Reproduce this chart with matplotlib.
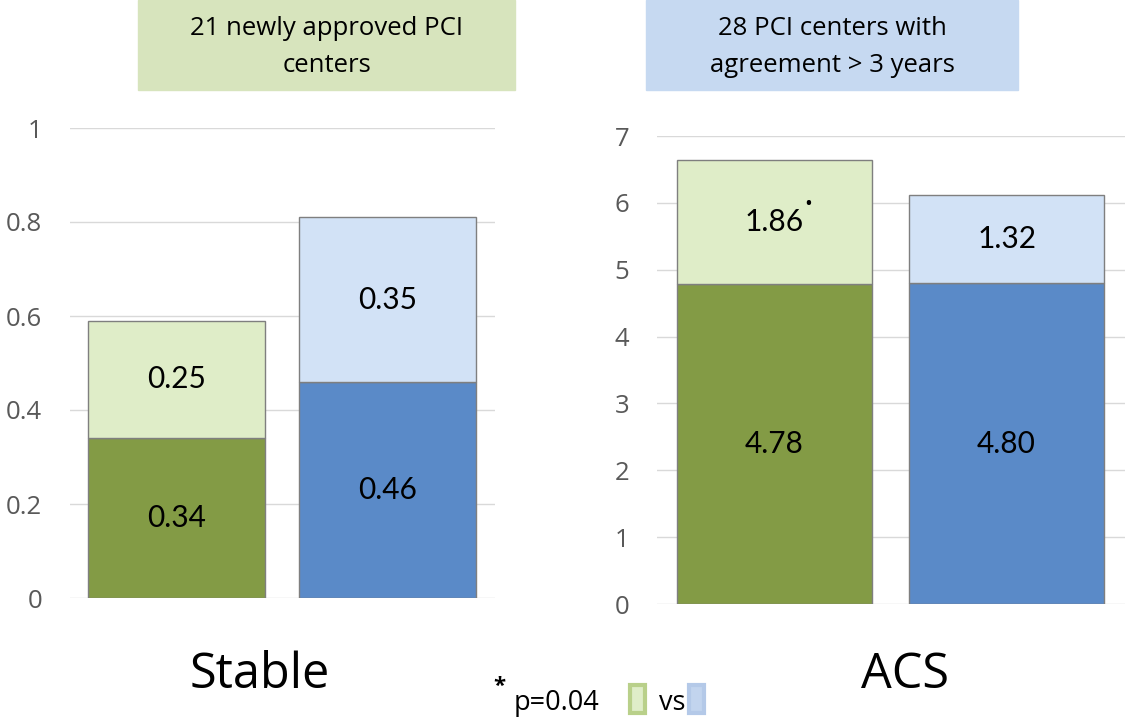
import matplotlib.pyplot as plt
from matplotlib.patches import Rectangle

# data
groups = ['21 newly approved PCI\ncenters', '28 PCI centers with\nagreement > 3 years']
stable_base = [0.34, 0.46]
stable_top = [0.25, 0.35]
acs_base = [4.78, 4.80]
acs_top = [1.86, 1.32]
panel_names = ['Stable', 'ACS']

dark = ['#839b45', '#5a8ac8']
light = ['#dfedc8', '#d2e2f6']
box_colors = ['#d7e4bd', '#c6d9f1']

plt.rcParams['font.family'] = ['Open Sans', 'DejaVu Sans']

fig = plt.figure(figsize=(11.29, 7.24), dpi=100)
W, H = 1129, 724


def px_axes(x0, x1, y_top, y_bot):
    return fig.add_axes([x0 / W, 1 - y_bot / H, (x1 - x0) / W, (y_bot - y_top) / H])


def draw_panel(ax, base, top, ymax, yticks, ticklabels, fmt):
    x = [0, 1]
    ax.bar(x, base, width=0.84, color=dark, edgecolor='#7f7f7f', linewidth=1, zorder=3)
    ax.bar(x, top, width=0.84, bottom=base, color=light, edgecolor='#7f7f7f', linewidth=1, zorder=3)
    for i in x:
        ax.text(i, base[i] / 2, fmt % base[i], ha='center', va='center',
                fontsize=21.5, family=['Lato', 'DejaVu Sans'], zorder=4)
        ax.text(i, base[i] + top[i] / 2, fmt % top[i], ha='center', va='center',
                fontsize=21.5, family=['Lato', 'DejaVu Sans'], zorder=4)
    ax.set_xlim(-0.505, 1.51)
    ax.set_ylim(0, ymax)
    ax.set_yticks(yticks)
    ax.set_yticklabels(ticklabels)
    ax.set_xticks([])
    ax.grid(axis='y', color='#d9d9d9', linewidth=1, zorder=0)
    for s in ax.spines.values():
        s.set_visible(False)
    ax.tick_params(axis='y', length=0, pad=20, labelsize=18.5, labelcolor='#595959')


ax1 = px_axes(70, 495, 128, 598)
draw_panel(ax1, stable_base, stable_top, 1.0,
           [0, 0.2, 0.4, 0.6, 0.8, 1.0], ['0', '0.2', '0.4', '0.6', '0.8', '1'], '%.2f')

ax2 = px_axes(657, 1125, 136, 604)
draw_panel(ax2, acs_base, acs_top, 7,
           list(range(8)), [str(v) for v in range(8)], '%.2f')
ax2.text(0.145, acs_base[0] + acs_top[0] / 2 + 0.27, '•', fontsize=15, ha='center', va='center', zorder=5)

# header boxes
for (x0, x1), txt, c in zip([(138, 515), (646, 1018)], groups, box_colors):
    fig.patches.append(Rectangle((x0 / W, 1 - 90 / H), (x1 - x0) / W, 90 / H,
                                 transform=fig.transFigure, color=c, zorder=0))
    fig.text((x0 + x1) / 2 / W, 1 - 47 / H, txt, ha='center', va='center',
             fontsize=18.5, linespacing=1.6)

# panel names
fig.text(260 / W, 1 - 675 / H, panel_names[0], ha='center', va='center', fontsize=35)
fig.text(905 / W, 1 - 675 / H, panel_names[1], ha='center', va='center', fontsize=35)

# footnote
fig.text(499 / W, 1 - 686 / H, '*', ha='center', va='center', fontsize=16, weight='bold')
fig.text(514 / W, 1 - 703 / H, 'p=0.04', ha='left', va='center', fontsize=19.5)
fig.patches.append(Rectangle((630 / W, 1 - 713 / H), 15 / W, 28 / H, transform=fig.transFigure,
                             facecolor='#dfedc8', edgecolor='#b9d08a', linewidth=3))
fig.text(659 / W, 1 - 703 / H, 'vs', ha='left', va='center', fontsize=19.5)
fig.patches.append(Rectangle((689 / W, 1 - 713 / H), 15 / W, 28 / H, transform=fig.transFigure,
                             facecolor='#c2d4ee', edgecolor='#b4c9e8', linewidth=3))

fig.savefig('out.png', dpi=100)
